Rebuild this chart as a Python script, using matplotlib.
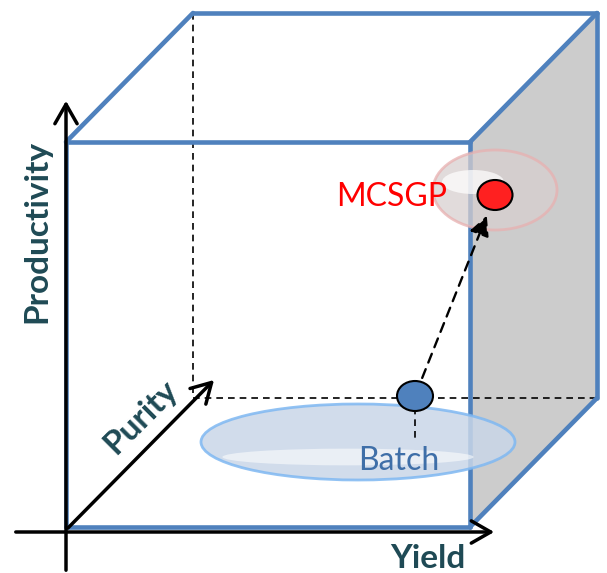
import matplotlib.pyplot as plt
from matplotlib.patches import Ellipse, Polygon, FancyArrowPatch

# cube geometry (pixel space of the 607x573 picture)
front_x = [66, 470]
front_y = [142, 527]
depth = [127, -129]

# axis arrows
yield_axis = [(13, 532), (497, 532)]
prod_axis = [(66, 573), (66, 98)]
purity_axis = [(66, 530), (216, 378)]

# process points: name, centre, size, colour
points = {
    'Batch': [(415, 396), (36, 30), '#4F81BD'],
    'MCSGP': [(495, 195), (35, 30), '#FF2020'],
}
halos = {
    'Batch': [(358, 442), (314, 76)],
    'MCSGP': [(495, 190), (124, 80)],
}

blue = '#4F81BD'
dark = '#1F4A55'

fig = plt.figure(figsize=(6.07, 5.73), dpi=100)
ax = fig.add_axes([0, 0, 1, 1])
ax.set_xlim(0, 607)
ax.set_ylim(573, 0)
ax.axis('off')

x0, x1 = front_x
y0, y1 = front_y
dx, dy = depth

# gray side face
ax.add_patch(Polygon([(x1, y0), (x1 + dx, y0 + dy), (x1 + dx, y1 + dy), (x1, y1)],
                     closed=True, facecolor='#CCCCCC', edgecolor='none', zorder=1))

# hidden edges
ax.plot([x0 + dx, x0 + dx], [y0 + dy, y1 + dy], color='black', ls=(0, (4, 3)), lw=1.2, zorder=2)
ax.plot([x0 + dx, x1 + dx], [y1 + dy, y1 + dy], color='black', ls=(0, (4, 3)), lw=1.2, zorder=2)

# visible cube edges
edges = [
    [(x0, y0), (x1, y0)], [(x1, y0), (x1, y1)], [(x0, y1), (x1, y1)], [(x0, y0), (x0, y1)],
    [(x0, y0), (x0 + dx, y0 + dy)], [(x0 + dx, y0 + dy), (x1 + dx, y0 + dy)],
    [(x1, y0), (x1 + dx, y0 + dy)], [(x1 + dx, y0 + dy), (x1 + dx, y1 + dy)],
    [(x1, y1), (x1 + dx, y1 + dy)],
]
for e in edges:
    ax.plot([e[0][0], e[1][0]], [e[0][1], e[1][1]], color=blue, lw=3.3, solid_capstyle='round', zorder=3)

# axis arrows
for a in [yield_axis, prod_axis, purity_axis]:
    ax.add_patch(FancyArrowPatch(a[0], a[1], arrowstyle='->,head_length=14,head_width=8',
                                 color='black', lw=2.5, mutation_scale=1, zorder=6))

# halos
c, s = halos['Batch']
ax.add_patch(Ellipse(c, s[0], s[1], facecolor='#C9D6E8', edgecolor='#7FB8F2', lw=2, alpha=0.85, zorder=4))
ax.add_patch(Ellipse((c[0] - 10, c[1] + 15), s[0] * 0.8, s[1] * 0.22, facecolor='white', edgecolor='none', alpha=0.55, zorder=4))
c, s = halos['MCSGP']
ax.add_patch(Ellipse(c, s[0], s[1], facecolor='#D8CFCF', edgecolor='#E8B0B0', lw=2, alpha=0.75, zorder=4))
ax.add_patch(Ellipse((c[0] - 22, c[1] - 8), s[0] * 0.5, s[1] * 0.3, facecolor='white', edgecolor='none', alpha=0.7, zorder=4))

# dashed link between points
bc = points['Batch'][0]
mc = points['MCSGP'][0]
ax.plot([bc[0], bc[0]], [bc[1], halos['Batch'][0][1]], color='black', ls=(0, (4, 3)), lw=1.2, zorder=5)
ax.add_patch(FancyArrowPatch(bc, mc, arrowstyle='-|>,head_length=12,head_width=6',
                             color='black', lw=1.7, ls=(0, (4, 3)), mutation_scale=1,
                             shrinkA=14, shrinkB=16, zorder=5))

for name, (c, s, col) in points.items():
    ax.add_patch(Ellipse(c, s[0], s[1], facecolor=col, edgecolor='black', lw=1.5, zorder=7))

# labels
font = 'Lato'
ax.text(37, 231, 'Productivity', rotation=90, ha='center', va='center', fontsize=24,
        fontweight='bold', color=dark, family=font, zorder=8)
ax.text(141, 417, 'Purity', rotation=45, ha='center', va='center', fontsize=24,
        fontweight='bold', color=dark, family=font, zorder=8)
ax.text(428, 558, 'Yield', ha='center', va='center', fontsize=24,
        fontweight='bold', color=dark, family=font, zorder=8)
ax.text(392, 197, 'MCSGP', ha='center', va='center', fontsize=23, color='#FF0000',
        family=font, zorder=8)
ax.text(399, 461, 'Batch', ha='center', va='center', fontsize=23, color='#3F6FA8',
        family=font, zorder=8)

fig.savefig('out.png', dpi=100)
